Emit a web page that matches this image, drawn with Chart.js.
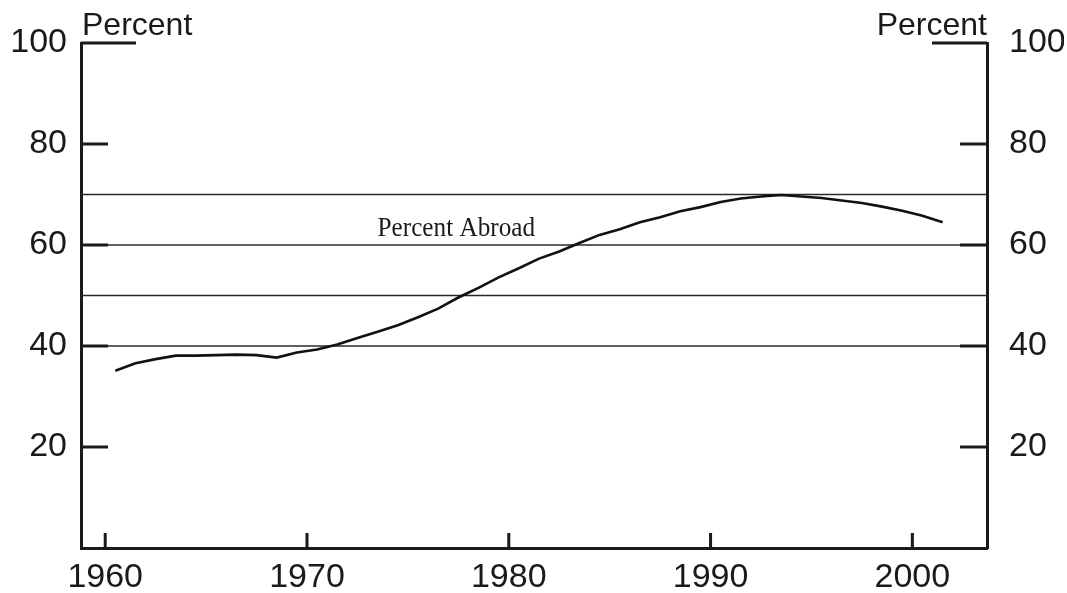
<!DOCTYPE html>
<html>
<head>
<meta charset="utf-8">
<script src="https://cdn.jsdelivr.net/npm/chart.js@4.4.0/dist/chart.umd.min.js"></script>
<style>
  html, body { margin: 0; padding: 0; background: #fff; }
</style>
</head>
<body>
<canvas id="grafica" width="1067" height="593"></canvas>
<script>

// datos
const anios = [1960, 1961, 1962, 1963, 1964, 1965, 1966, 1967, 1968, 1969,
               1970, 1971, 1972, 1973, 1974, 1975, 1976, 1977, 1978, 1979,
               1980, 1981, 1982, 1983, 1984, 1985, 1986, 1987, 1988, 1989,
               1990, 1991, 1992, 1993, 1994, 1995, 1996, 1997, 1998, 1999,
               2000, 2001]
const porcentajeExterior = [35.1, 36.6, 37.4, 38.1, 38.1, 38.2, 38.3, 38.2, 37.7, 38.7,
                            39.3, 40.3, 41.6, 42.8, 44.1, 45.7, 47.4, 49.6, 51.5, 53.6,
                            55.4, 57.3, 58.7, 60.4, 62.0, 63.1, 64.5, 65.5, 66.7, 67.5,
                            68.5, 69.2, 69.6, 69.9, 69.6, 69.3, 68.8, 68.3, 67.6, 66.8,
                            65.8, 64.5]
const ticksX = [1960, 1970, 1980, 1990, 2000]
const ticksY = [20, 40, 60, 80, 100]
const lineasGuia = [40, 50, 60, 70]
const etiquetaSerie = 'Percent Abroad'
const tituloEje = 'Percent'

const negro = '#1a1a1a'

const puntos = anios.map((a, i) => ({ x: a + 0.5, y: porcentajeExterior[i] }))

const fijarTicks = (valores) => (scale) => {
   scale.ticks = valores.map(v => ({ value: v }))
}

const marcas = {
   id: 'marcas',
   beforeDatasetsDraw(chart) {
      const ctx = chart.ctx
      const area = chart.chartArea
      const y = chart.scales.y
      ctx.save()
      ctx.strokeStyle = '#2a2a2a'
      ctx.lineWidth = 1.4
      lineasGuia.forEach(v => {
         const py = y.getPixelForValue(v)
         ctx.beginPath()
         ctx.moveTo(area.left, py)
         ctx.lineTo(area.right, py)
         ctx.stroke()
      })
      ctx.restore()
   },
   afterDraw(chart) {
      const ctx = chart.ctx
      const area = chart.chartArea
      const x = chart.scales.x
      const y = chart.scales.y
      ctx.save()
      ctx.strokeStyle = negro
      ctx.lineWidth = 3
      ctx.lineCap = 'butt'
      ticksY.forEach(v => {
         const py = y.getPixelForValue(v)
         const largo = v === 100 ? 55 : 27
         ctx.beginPath()
         ctx.moveTo(area.left, py)
         ctx.lineTo(area.left + largo, py)
         ctx.moveTo(area.right, py)
         ctx.lineTo(area.right - largo, py)
         ctx.stroke()
      })
      ticksX.forEach(v => {
         const px = x.getPixelForValue(v)
         ctx.beginPath()
         ctx.moveTo(px, area.bottom)
         ctx.lineTo(px, area.bottom - 15)
         ctx.stroke()
      })

      // titulos de eje
      ctx.fillStyle = negro
      ctx.font = '32px "Liberation Sans", Arial, sans-serif'
      ctx.textBaseline = 'alphabetic'
      ctx.textAlign = 'left'
      ctx.fillText(tituloEje, area.left + 1, area.top - 8.5)
      ctx.textAlign = 'right'
      ctx.fillText(tituloEje, area.right, area.top - 8.5)

      // etiqueta de la serie
      const lx = x.getPixelForValue(1977.4)
      const ly = y.getPixelForValue(61.8)
      ctx.translate(lx, ly)
      ctx.scale(0.9, 1)
      ctx.textAlign = 'center'
      ctx.font = '28px "Liberation Serif", "Times New Roman", serif'
      ctx.fillText(etiquetaSerie, 0, 0)
      ctx.restore()
   }
}

const fuenteTicks = { family: '"Liberation Sans", Arial, sans-serif', size: 34, lineHeight: 0.9 }

const ejeY = (posicion, relleno, ancho) => ({
   position: posicion,
   min: 0,
   max: 100,
   afterBuildTicks: fijarTicks(ticksY),
   afterFit: (s) => { s.width = ancho },
   grid: { display: false, drawTicks: false },
   border: { display: true, width: 3, color: negro },
   ticks: { font: fuenteTicks, color: negro, padding: relleno }
})

var ctx = document.getElementById('grafica').getContext('2d')

new Chart(ctx, {
   type: 'line',
   data: {
      datasets: [{
         label: etiquetaSerie,
         data: puntos,
         borderColor: '#111',
         borderWidth: 2.6,
         pointRadius: 0,
         tension: 0,
         fill: false
      }]
   },
   options: {
      responsive: false,
      animation: false,
      devicePixelRatio: 1,
      layout: { padding: { left: 10, right: 3, top: 43, bottom: 0 } },
      plugins: { legend: { display: false }, tooltip: { enabled: false } },
      scales: {
         x: {
            type: 'linear',
            min: 1958.8,
            max: 2003.7,
            afterBuildTicks: fijarTicks(ticksX),
            afterFit: (s) => { s.height = 45; s.paddingLeft = 0; s.paddingRight = 0 },
            grid: { display: false, drawTicks: false },
            border: { display: true, width: 3, color: negro },
            ticks: { font: fuenteTicks, color: negro, padding: 14, maxRotation: 0,
                     callback: v => String(v) }
         },
         y: ejeY('left', 14, 71),
         y2: ejeY('right', 22, 77)
      }
   },
   plugins: [marcas]
})
</script>
</body>
</html>
